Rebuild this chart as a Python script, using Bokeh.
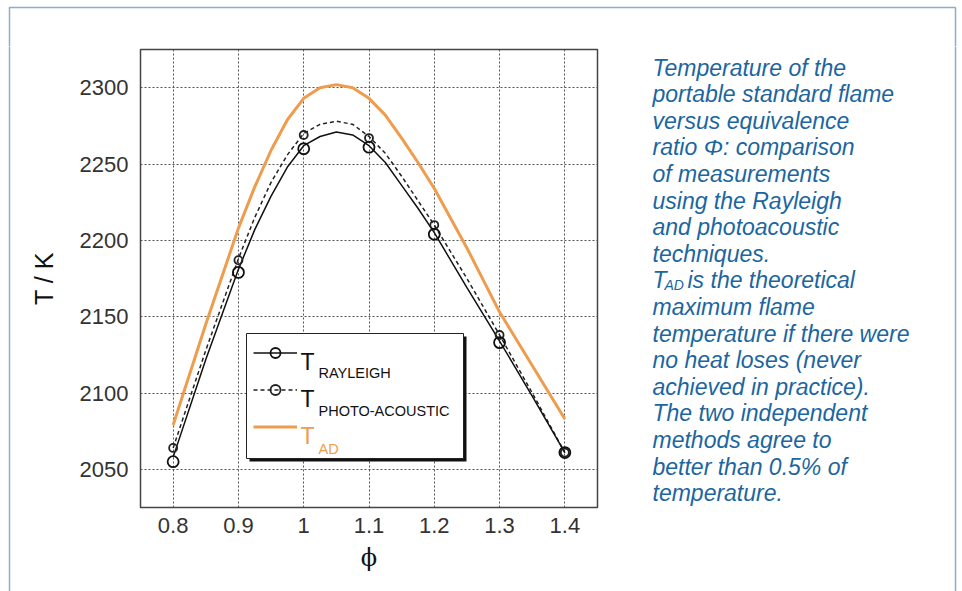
from bokeh.plotting import figure
from bokeh.layouts import row, column
from bokeh.models import Label, BoxAnnotation, Legend, LegendItem, FixedTicker, Range1d
from bokeh.embed import file_html
from bokeh.resources import INLINE

# ---- data ----
phi = [0.8, 0.9, 1.0, 1.1, 1.2, 1.3, 1.4]
t_rayleigh = [2055, 2179, 2260, 2261, 2204, 2133, 2061]
t_photo = [2064, 2187, 2269, 2267, 2210, 2138, 2061]

curve_phi = [0.8, 0.85, 0.9, 0.925, 0.95, 0.975, 1.0, 1.025, 1.05, 1.075, 1.1,
             1.125, 1.15, 1.175, 1.2, 1.25, 1.3, 1.35, 1.4]
curve_rayleigh = [2058, 2122, 2181, 2207, 2229, 2248, 2262, 2268, 2271, 2269, 2262,
                  2251, 2236, 2221, 2205, 2169, 2134, 2098, 2061]
curve_photo = [2064, 2128, 2188, 2215, 2238, 2256, 2270, 2276, 2278, 2276, 2268,
               2257, 2242, 2226, 2210, 2175, 2138, 2100, 2061]
curve_ad = [2079, 2145, 2208, 2235, 2259, 2279, 2293, 2300, 2302, 2300, 2293,
            2282, 2267, 2251, 2234, 2195, 2153, 2118, 2083]

x_ticks = [0.8, 0.9, 1.0, 1.1, 1.2, 1.3, 1.4]
x_tick_labels = ["0.8", "0.9", "1", "1.1", "1.2", "1.3", "1.4"]
y_ticks = [2050, 2100, 2150, 2200, 2250, 2300]

legend_names = ["RAYLEIGH", "PHOTO-ACOUSTIC", "AD"]
caption_lines = [
    "Temperature of the",
    "portable standard flame",
    "versus equivalence",
    "ratio \u03a6: comparison",
    "of measurements",
    "using the Rayleigh",
    "and photoacoustic",
    "techniques.",
    None,  # T_AD line, built separately
    "maximum flame",
    "temperature if there were",
    "no heat loses (never",
    "achieved in practice).",
    "The two independent",
    "methods agree to",
    "better than 0.5% of",
    "temperature.",
]

ORANGE = "#ee9c4e"
BLUE = "#1b66a0"
BORDER = "#8aaed3"
FONT = "Liberation Sans"
CAP_SIZE = "23px"

# ---- canvas geometry ----
W, H = 962, 591
LEFT_W = 20          # left strip
TOP_H = 46           # top strip (full width)
CHART_W = 580        # chart figure width (x 20..600)
CAP_W = W - LEFT_W - CHART_W  # caption figure width (x 600..962)
MID_H = H - TOP_H
FL, FB = 140, 507    # chart frame left / bottom in canvas px


def blank(w, h):
    f = figure(width=w, height=h, output_backend="svg", toolbar_location=None,
               x_axis_type=None, y_axis_type=None,
               x_range=Range1d(0, 1), y_range=Range1d(0, 1),
               min_border=0, min_border_left=0, min_border_right=0,
               min_border_top=0, min_border_bottom=0)
    f.outline_line_color = None
    f.background_fill_color = "white"
    f.border_fill_color = "white"
    return f


def border_box(fig, ox, oy, h):
    # outer light-blue frame: canvas x 9..955, y 7..(below page)
    fig.add_layout(BoxAnnotation(left=9 - ox, right=955 - ox, top=(oy + h) - 7, bottom=-200,
                                 left_units="screen", right_units="screen",
                                 top_units="screen", bottom_units="screen",
                                 fill_alpha=0, line_color=BORDER, line_alpha=1,
                                 line_width=1.5))


# ---- chart figure ----
def sx(X):
    return X - FL


def sy(Y):
    return FB - Y


p = figure(width=CHART_W, height=MID_H, output_backend="svg", toolbar_location=None,
           x_range=Range1d(0.75, 1.45), y_range=Range1d(2025, 2325),
           min_border_left=FL - LEFT_W, min_border_right=3,
           min_border_top=3, min_border_bottom=H - FB)

p.background_fill_color = "white"
p.border_fill_color = "white"
p.outline_line_color = "#444444"
p.outline_line_width = 1.5

p.xaxis.ticker = FixedTicker(ticks=x_ticks)
p.yaxis.ticker = FixedTicker(ticks=y_ticks)
p.xaxis.major_label_overrides = {t: l for t, l in zip(x_ticks, x_tick_labels)}
for ax in (p.xaxis, p.yaxis):
    ax.axis_line_color = None
    ax.major_tick_line_color = None
    ax.minor_tick_line_color = None
    ax.major_tick_out = 0
    ax.major_tick_in = 0
    ax.minor_tick_out = 0
    ax.major_label_text_font = FONT
    ax.major_label_text_font_size = "22px"
    ax.major_label_text_color = "#333333"
p.yaxis.major_label_standoff = 12
p.xaxis.major_label_standoff = 10
p.yaxis.axis_label = "T / K"
p.yaxis.axis_label_text_font = FONT
p.yaxis.axis_label_text_font_size = "25px"
p.yaxis.axis_label_text_font_style = "normal"
p.yaxis.axis_label_text_color = "#111111"
p.yaxis.axis_label_standoff = 19
p.xaxis.axis_label = "\u03d5"
p.xaxis.axis_label_text_font = "DejaVu Serif"
p.xaxis.axis_label_text_font_size = "24px"
p.xaxis.axis_label_text_font_style = "normal"
p.xaxis.axis_label_text_color = "#111111"
p.xaxis.axis_label_standoff = 8

for g in (p.xgrid, p.ygrid):
    g.grid_line_color = "#555555"
    g.grid_line_dash = "2 2"
    g.grid_line_width = 1

r_ad = p.line(curve_phi, curve_ad, line_color=ORANGE, line_width=3)
r_pl = p.line(curve_phi, curve_photo, line_color="#222222", line_width=1.5, line_dash="4 3")
r_rl = p.line(curve_phi, curve_rayleigh, line_color="#111111", line_width=1.5)
r_ps = p.scatter(phi, t_photo, marker="circle", size=8, fill_alpha=0,
                 line_color="#222222", line_width=1.8)
r_rs = p.scatter(phi, t_rayleigh, marker="circle", size=11, fill_alpha=0,
                 line_color="#111111", line_width=1.8)

# legend box with shadow
p.add_layout(BoxAnnotation(left=sx(249), right=sx(466), top=sy(336), bottom=sy(461),
                           left_units="screen", right_units="screen",
                           top_units="screen", bottom_units="screen",
                           fill_color="#111111", fill_alpha=1, line_alpha=0))
p.add_layout(BoxAnnotation(left=sx(246), right=sx(463), top=sy(333), bottom=sy(458),
                           left_units="screen", right_units="screen",
                           top_units="screen", bottom_units="screen",
                           fill_color="white", fill_alpha=1,
                           line_color="#222222", line_alpha=1, line_width=1))

legend = Legend(items=[LegendItem(label=" ", renderers=[r_rl, r_rs]),
                       LegendItem(label=" ", renderers=[r_pl, r_ps]),
                       LegendItem(label=" ", renderers=[r_ad])],
                location=(sx(253), sy(444.5)), glyph_width=44, glyph_height=25,
                label_height=37, label_width=1, label_standoff=0, spacing=0,
                padding=0, margin=0, background_fill_alpha=0, border_line_alpha=0,
                label_text_font_size="2px")
p.add_layout(legend)

leg_T_base = [361, 398, 435]
leg_sub_base = [372, 410, 448]
leg_colors = ["#111111", "#111111", ORANGE]
for name, tb, sb, c in zip(legend_names, leg_T_base, leg_sub_base, leg_colors):
    p.add_layout(Label(x=sx(300), y=sy(tb), x_units="screen", y_units="screen",
                       text="T", text_font=FONT, text_font_size="23px",
                       text_color=c, text_baseline="alphabetic"))
    p.add_layout(Label(x=sx(318), y=sy(sb), x_units="screen", y_units="screen",
                       text=name, text_font=FONT, text_font_size="14.5px",
                       text_color=c, text_baseline="alphabetic"))

# ---- border strips ----
top_strip = blank(W, TOP_H)
border_box(top_strip, 0, 0, TOP_H)
left_strip = blank(LEFT_W, MID_H)
border_box(left_strip, 0, TOP_H, MID_H)

# ---- caption figure ----
OX = LEFT_W + CHART_W
cap = blank(CAP_W, MID_H)
border_box(cap, OX, TOP_H, MID_H)


def cx(X):
    return X - OX


def cy(Y):
    return H - Y


CX = 652
for i, line in enumerate(caption_lines):
    base = 67 + i * 26.6
    if line is None:
        cap.add_layout(Label(x=cx(CX), y=cy(base), x_units="screen", y_units="screen",
                             text="T", text_font=FONT, text_font_size=CAP_SIZE,
                             text_font_style="italic", text_color=BLUE,
                             text_baseline="alphabetic"))
        cap.add_layout(Label(x=cx(CX + 12), y=cy(base + 5), x_units="screen", y_units="screen",
                             text="AD", text_font=FONT, text_font_size="14px",
                             text_font_style="italic", text_color=BLUE,
                             text_baseline="alphabetic"))
        cap.add_layout(Label(x=cx(CX + 35), y=cy(base), x_units="screen", y_units="screen",
                             text="is the theoretical", text_font=FONT, text_font_size=CAP_SIZE,
                             text_font_style="italic", text_color=BLUE,
                             text_baseline="alphabetic"))
    else:
        cap.add_layout(Label(x=cx(CX), y=cy(base), x_units="screen", y_units="screen",
                             text=line, text_font=FONT, text_font_size=CAP_SIZE,
                             text_font_style="italic", text_color=BLUE,
                             text_baseline="alphabetic"))

layout = column(top_strip, row(left_strip, column(p), cap, spacing=0), spacing=0)
open("out.html", "w").write(file_html(layout, INLINE))
